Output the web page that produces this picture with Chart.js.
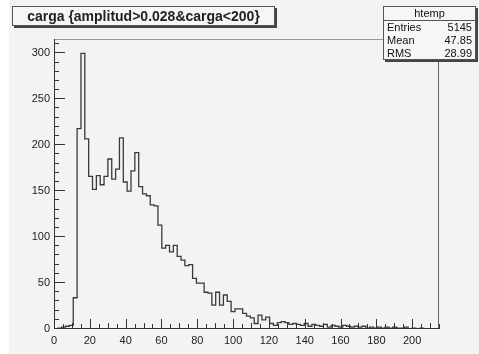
<!DOCTYPE html>
<html>
<head>
<meta charset="utf-8">
<script src="https://cdn.jsdelivr.net/npm/chart.js@4.4.1/dist/chart.umd.min.js"></script>
<style>
  html, body { margin: 0; padding: 0; background: #fff; }
  #pad { position: absolute; left: 9px; top: 0; width: 470px; height: 354px; background: #f3f3f3; }
  #c { position: absolute; left: 0; top: 0; }
  #title {
    position: absolute; left: 12px; top: 6px; width: 263px; height: 20px;
    border: 1px solid #555; box-shadow: 2px 2px 0 #444; background: #f6f6f6;
    font: bold 14px "Liberation Sans", Arial, sans-serif; color: #222;
    line-height: 18px; text-align: center; box-sizing: border-box;
  }
  #stats {
    position: absolute; left: 383px; top: 6px; width: 93px; height: 54px;
    border: 1px solid #555; box-shadow: 2px 2px 0 #444; background: #f6f6f6;
    font: 11px "Liberation Sans", Arial, sans-serif; color: #111; box-sizing: border-box;
  }
  #stats .head { text-align: center; height: 13px; line-height: 12px; border-bottom: 1px solid #555; }
  #stats .row { display: flex; justify-content: space-between; padding: 0 3px; height: 13px; line-height: 13px; }
</style>
</head>
<body>
<div id="pad"></div>
<canvas id="c" width="479" height="354"></canvas>
<div id="title"></div>
<div id="stats"></div>
<script>
// histogram htemp: 100 bins from 0 to 215
const histName = "htemp";
const histTitle = "carga {amplitud>0.028&carga<200}";
const xMin = 0, xMax = 215, nBins = 100;
const counts = [
  0, 1, 2, 3, 4, 34, 218, 300, 207, 166,
  152, 167, 157, 166, 185, 163, 174, 208, 160, 150,
  172, 192, 155, 147, 145, 135, 134, 113, 88, 91,
  84, 91, 79, 75, 69, 70, 55, 50, 50, 40,
  39, 26, 40, 26, 37, 30, 19, 22, 22, 17,
  14, 12, 6, 15, 10, 13, 6, 4, 7, 8,
  7, 5, 6, 5, 4, 6, 3, 5, 4, 3,
  5, 2, 4, 3, 2, 4, 3, 2, 3, 2,
  3, 1, 2, 1, 2, 1, 2, 1, 2, 1,
  1, 2, 0, 1, 0, 1, 0, 0, 0, 0
];
const xTicks = [0, 20, 40, 60, 80, 100, 120, 140, 160, 180, 200];
const yTicks = [0, 50, 100, 150, 200, 250, 300];
const yMax = 315.6;
const statLabels = ["Entries", "Mean", "RMS"];
const statValues = ["5145", "47.85", "28.99"];

document.getElementById("title").textContent = histTitle;
const st = document.getElementById("stats");
st.innerHTML = '<div class="head">' + histName + '</div>' +
  statLabels.map((l, i) => '<div class="row"><span>' + l + '</span><span>' + statValues[i] + '</span></div>').join("");

// bin low edges, plus the last high edge
const binW = (xMax - xMin) / nBins;
const steps = counts.map((c, i) => ({ x: xMin + i * binW, y: c }));
steps.push({ x: xMax, y: counts[counts.length - 1] });

// ROOT style frame with inward ticks
const framePlugin = {
  id: "frame",
  afterDraw(chart) {
    const { ctx, chartArea: a } = chart;
    const xs = chart.scales.x, ys = chart.scales.y;
    ctx.save();
    ctx.lineWidth = 1;
    ctx.strokeStyle = "#999";
    ctx.beginPath();
    ctx.moveTo(a.left, a.top + 0.5); ctx.lineTo(a.right, a.top + 0.5);
    ctx.stroke();
    ctx.strokeStyle = "#666";
    ctx.beginPath();
    ctx.moveTo(a.right - 0.5, a.top); ctx.lineTo(a.right - 0.5, a.bottom);
    ctx.stroke();
    ctx.strokeStyle = "#333";
    ctx.beginPath();
    ctx.moveTo(a.left + 0.5, a.top); ctx.lineTo(a.left + 0.5, a.bottom);
    ctx.moveTo(a.left, a.bottom - 0.5); ctx.lineTo(a.right, a.bottom - 0.5);
    for (let v = 0; v <= yMax; v += 10) {
      const y = Math.round(ys.getPixelForValue(v)) - 0.5;
      const len = yTicks.includes(v) ? 11 : 5;
      ctx.moveTo(a.left, y); ctx.lineTo(a.left + len, y);
    }
    for (let v = xMin; v <= xMax; v += 5) {
      const x = Math.round(xs.getPixelForValue(v)) + 0.5;
      const len = xTicks.includes(v) ? 10 : (v % 10 === 0 ? 6 : 5);
      ctx.moveTo(x, a.bottom); ctx.lineTo(x, a.bottom - len);
    }
    ctx.stroke();
    ctx.restore();
  }
};

const tickFont = { family: "Liberation Sans", size: 11 };

new Chart(document.getElementById("c"), {
  type: "line",
  data: {
    datasets: [{
      data: steps,
      stepped: "before",
      borderColor: "#3a3a3a",
      borderWidth: 1.3,
      pointRadius: 0,
      fill: false
    }]
  },
  options: {
    responsive: false,
    animation: false,
    layout: { padding: { top: 39, right: 40, left: 0, bottom: 0 } },
    plugins: { legend: { display: false }, tooltip: { enabled: false } },
    scales: {
      x: {
        type: "linear", min: xMin, max: xMax,
        afterBuildTicks: s => { s.ticks = xTicks.map(v => ({ value: v })); },
        afterFit: s => { s.height = 25; },
        grid: { display: false, drawTicks: false }, border: { display: false },
        ticks: { font: tickFont, color: "#222", padding: 5, maxRotation: 0, autoSkip: false }
      },
      y: {
        type: "linear", min: 0, max: yMax,
        afterBuildTicks: s => { s.ticks = yTicks.map(v => ({ value: v })); },
        afterFit: s => { s.width = 54; },
        grid: { display: false, drawTicks: false }, border: { display: false },
        ticks: { font: tickFont, color: "#222", padding: 4, autoSkip: false }
      }
    }
  },
  plugins: [framePlugin]
});
</script>
</body>
</html>
